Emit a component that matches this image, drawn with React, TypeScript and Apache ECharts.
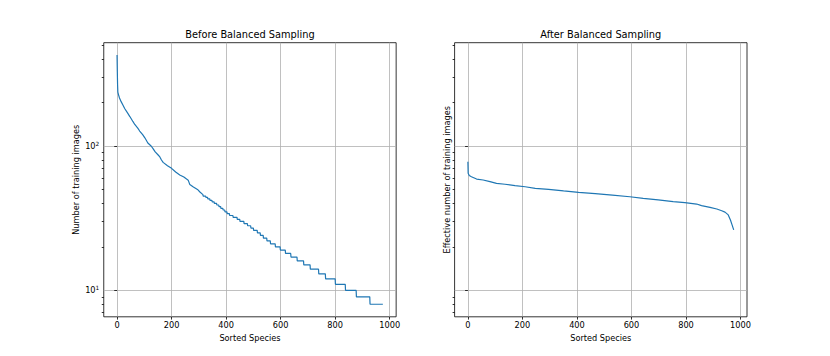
import React, { useEffect, useRef } from "react";
import * as echarts from "echarts";

// ---- Data ----
// Left panel: head of the curve (rank, count), nearly continuous
const leftHeadRanks = [0, 1, 2, 3, 5, 9, 15, 21, 28, 39, 47, 58, 65, 76, 83, 94, 102, 113, 125, 132, 140, 150, 157, 163, 169, 185, 200, 215, 230, 245, 255, 261, 267, 280, 295, 304, 315];
const leftHeadCounts = [428, 330, 265, 236, 228, 215, 203, 193, 182, 169, 160, 148, 141, 133, 127, 120, 114, 105, 100, 96, 91, 87, 84, 80, 77, 73, 70, 66, 63, 61, 59, 58, 54, 52, 50, 48, 46];
// Left panel: stepped tail, integer counts and the last rank holding each count
const leftStepCounts = [45, 44, 43, 42, 41, 40, 39, 38, 37, 36, 35, 34, 33, 32, 31, 30, 29, 28, 27, 26, 25, 24, 23, 22, 21, 20, 19, 18, 17, 16, 15, 14, 13, 12, 11, 10, 9, 8];
const leftStepEnds = [325, 332, 340, 348, 356, 365, 373, 380, 388, 395, 403, 412, 425, 440, 450, 465, 478, 490, 500, 514, 525, 536, 549, 562, 580, 598, 617, 637, 660, 684, 708, 739, 764, 800, 837, 877, 927, 975];

// Right panel: effective number of training images
const rightRanks = [0, 1, 5, 13, 32, 56, 81, 105, 136, 173, 210, 247, 296, 351, 406, 467, 530, 594, 643, 698, 753, 796, 839, 857, 888, 913, 931, 943, 955, 963, 969, 975];
const rightValues = [77.8, 64.7, 62.5, 61.2, 59, 58.1, 56.6, 55.1, 54.3, 53.1, 52.2, 50.9, 50.1, 48.8, 47.7, 46.7, 45.7, 44.5, 43.4, 42.3, 41.2, 40.5, 39.6, 38.6, 37.6, 36.6, 35.6, 34.8, 33.3, 30.7, 28.4, 26.2];

const xTicks = [0, 200, 400, 600, 800, 1000];
const yMajorTicks = [10, 100];
const yMinorTicks = [7, 8, 9, 20, 30, 40, 50, 60, 70, 80, 90, 200, 300, 400, 500];

const titles = ["Before Balanced Sampling", "After Balanced Sampling"];
const yNames = ["Number of training images", "Effective number of training images"];
const xName = "Sorted Species";

const FONT = "DejaVu Sans";

export default function App() {
  const ref = useRef<HTMLDivElement>(null);

  useEffect(() => {
    if (!ref.current) return;
    const chart = echarts.init(ref.current, undefined, { renderer: "svg" });

    const leftData: [number, number][] = leftHeadRanks.map((r, i) => [r, leftHeadCounts[i]]);
    let start = leftHeadRanks[leftHeadRanks.length - 1] + 1;
    leftStepCounts.forEach((c, i) => {
      leftData.push([start, c]);
      leftData.push([leftStepEnds[i], c]);
      start = leftStepEnds[i] + 1;
    });
    const rightData: [number, number][] = rightRanks.map((r, i) => [r, rightValues[i]]);

    const gridLeft = [103.75, 454.6];
    const gridW = 292.4;
    const gridTop = 42.7;
    const gridH = 274.1;

    const supFmt = (v: number) => `{b|10}{s|${Math.round(Math.log10(v))}}`;

    const xAxes = [0, 1].map((g) => ({
      type: "value",
      gridIndex: g,
      min: -48.75,
      max: 1023.75,
      name: xName,
      nameLocation: "middle",
      nameGap: 14,
      nameTextStyle: { fontFamily: FONT, fontSize: 8.2, color: "#000" },
      axisLine: { show: false },
      axisTick: { show: true, customValues: xTicks, length: 2.8, lineStyle: { color: "#000", width: 0.8 } },
      axisLabel: {
        customValues: xTicks,
        formatter: (v: number) => String(v),
        fontFamily: FONT,
        fontSize: 8.2,
        color: "#000",
        margin: 4.5,
      },
      splitLine: { show: true, lineStyle: { color: "#b0b0b0", width: 0.8 } },
    }));

    const yMain = [0, 1].map((g) => ({
      type: "log",
      logBase: 10,
      gridIndex: g,
      position: "left",
      min: 6.55,
      max: 520,
      name: yNames[g],
      nameLocation: "middle",
      nameRotate: 90,
      nameGap: g === 0 ? 24 : 4,
      nameTextStyle: { fontFamily: FONT, fontSize: 8.2, color: "#000" },
      axisLine: { show: false },
      axisTick: { show: true, customValues: yMajorTicks, length: 2.8, lineStyle: { color: "#000", width: 0.8 } },
      axisLabel: {
        show: g === 0,
        customValues: yMajorTicks,
        margin: 4.5,
        formatter: supFmt,
        rich: {
          b: { fontFamily: FONT, fontSize: 8.2, color: "#000", lineHeight: 11 },
          s: { fontFamily: FONT, fontSize: 5.8, color: "#000", verticalAlign: "top", lineHeight: 7 },
        },
      },
      splitLine: { show: true, lineStyle: { color: "#b0b0b0", width: 0.8 } },
    }));

    const yMinor = [0, 1].map((g) => ({
      type: "log",
      logBase: 10,
      gridIndex: g,
      position: "left",
      offset: 0,
      min: 6.55,
      max: 520,
      axisLine: { show: false },
      axisTick: { show: true, customValues: yMinorTicks, length: 2, lineStyle: { color: "#000", width: 0.8 } },
      axisLabel: { show: false },
      splitLine: { show: false },
    }));

    chart.setOption({
      animation: false,
      backgroundColor: "#fff",
      textStyle: { fontFamily: FONT },
      title: [0, 1].map((g) => ({
        text: titles[g],
        left: gridLeft[g] + gridW / 2,
        top: 29,
        textAlign: "center",
        padding: 0,
        textStyle: { fontFamily: FONT, fontSize: 9.8, fontWeight: "normal", color: "#000" },
      })),
      grid: [0, 1].map((g) => ({
        left: gridLeft[g],
        top: gridTop,
        width: gridW,
        height: gridH,
        show: true,
        borderColor: "#000",
        borderWidth: 0.8,
        backgroundColor: "transparent",
        containLabel: false,
        outerBoundsMode: "none",
      })),
      xAxis: xAxes,
      yAxis: [...yMain, ...yMinor],
      series: [
        {
          type: "line",
          xAxisIndex: 0,
          yAxisIndex: 0,
          data: leftData,
          showSymbol: false,
          lineStyle: { color: "#1f77b4", width: 1.2 },
          itemStyle: { color: "#1f77b4" },
        },
        {
          type: "line",
          xAxisIndex: 1,
          yAxisIndex: 1,
          data: rightData,
          showSymbol: false,
          lineStyle: { color: "#1f77b4", width: 1.2 },
          itemStyle: { color: "#1f77b4" },
        },
      ],
    });

    return () => chart.dispose();
  }, []);

  return (
    <div
      ref={ref}
      style={{ position: "fixed", left: 0, top: 0, width: 830, height: 356, background: "#fff" }}
    />
  );
}
